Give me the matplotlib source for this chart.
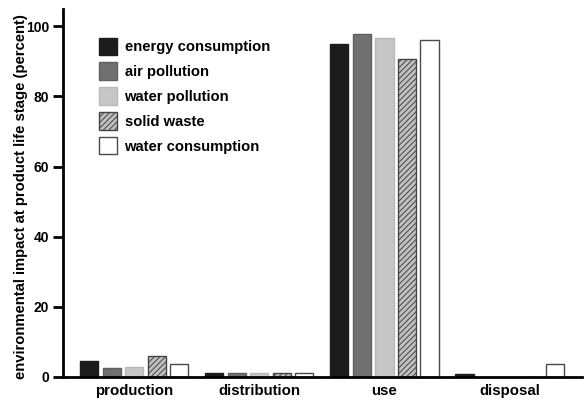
import matplotlib.pyplot as plt
import numpy as np

plt.rcParams['font.family'] = ['Liberation Sans', 'DejaVu Sans']
plt.rcParams['font.weight'] = 'bold'
plt.rcParams['hatch.linewidth'] = 0.7

# stages and series (percent)
stages = ['production', 'distribution', 'use', 'disposal']
series_names = ['energy consumption', 'air pollution', 'water pollution',
                'solid waste', 'water consumption']
energy = [4.6, 1.0, 95.0, 0.9]
air = [2.4, 1.0, 97.8, 0.0]
water_poll = [2.9, 1.0, 96.6, 0.0]
solid = [6.0, 1.0, 90.8, 0.0]
water_cons = [3.7, 1.0, 96.2, 3.7]
yticks = [0, 20, 40, 60, 80, 100]

values = [energy, air, water_poll, solid, water_cons]
faces = ['#1c1c1c', '#707070', '#c6c6c6', '#c0c0c0', 'white']
edges = ['#1c1c1c', '#606060', '#b8b8b8', '#444444', '#4a4a4a']
hatches = [None, None, None, '//////', None]

fig = plt.figure(figsize=(5.88, 4.03), dpi=100)
ax = fig.add_axes([0.107, 0.065, 0.883, 0.913])

x = np.arange(len(stages))
w = 0.145
step = 0.18
for i, vals in enumerate(values):
    ax.bar(x + (i - 2) * step, vals, width=w, color=faces[i],
           edgecolor=edges[i], linewidth=1.0, hatch=hatches[i],
           label=series_names[i])

ax.set_xlim(-0.57, 3.58)
ax.set_ylim(0, 105)
ax.set_xticks(x)
ax.set_xticklabels(stages, fontsize=10.8, fontweight='bold')
ax.set_yticks(yticks)
ax.set_yticklabels([str(t) for t in yticks], fontsize=10, fontweight='bold')
ax.tick_params(axis='x', length=0, pad=5)
ax.tick_params(axis='y', length=7, width=2, direction='out', pad=3)
ax.spines['top'].set_visible(False)
ax.spines['right'].set_visible(False)
ax.spines['left'].set_linewidth(2)
ax.spines['bottom'].set_linewidth(2)
ax.set_ylabel('environmental impact at product life stage (percent)',
              fontsize=10.7, fontweight='bold')
ax.yaxis.set_label_coords(-0.067, 0.49)

ax.legend(loc='upper left', bbox_to_anchor=(0.069, 0.922), frameon=False,
          handlelength=1.25, handleheight=1.45,
          labelspacing=0.5, handletextpad=0.5, borderpad=0,
          borderaxespad=0, prop={'weight': 'bold', 'size': 10.6})

fig.savefig('out.png', dpi=100)
